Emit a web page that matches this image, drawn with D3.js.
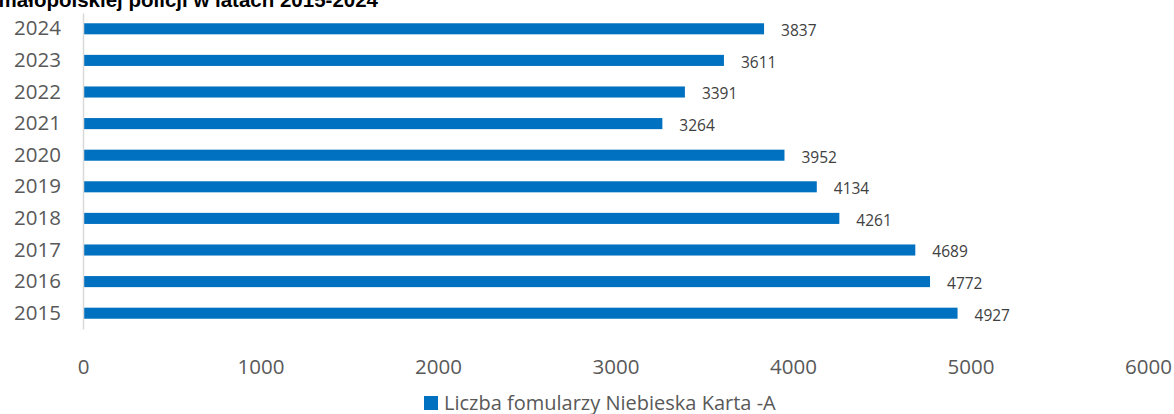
<!DOCTYPE html>
<html>
<head>
<meta charset="utf-8">
<script src="https://cdn.jsdelivr.net/npm/d3@7"></script>
<style>
  body { margin: 0; background: #fff; }
  svg { display: block; font-family: "Open Sans", sans-serif; }
</style>
</head>
<body>
<div id="viz"></div>
<script>
// Data
const years = ["2024", "2023", "2022", "2021", "2020", "2019", "2018", "2017", "2016", "2015"];
const counts = [3837, 3611, 3391, 3264, 3952, 4134, 4261, 4689, 4772, 4927];
const xTicks = [0, 1000, 2000, 3000, 4000, 5000, 6000];
const seriesName = "Liczba fomularzy Niebieska Karta -A";
const chartTitle = "małopolskiej policji w latach 2015-2024";

// Geometry
const width = 1174;
const height = 414;
const margin = {top: 13, left: 83, right: 26, bottom: 85};
const innerWidth = width - margin.left - margin.right;
const innerHeight = height - margin.top - margin.bottom;
const barColor = "#0070C0";

const data = years.map((y, i) => ({year: y, value: counts[i]}));

const svg = d3.select("#viz")
  .append("svg")
  .attr("width", width)
  .attr("height", height);

// Title (cut off at the top, as in the original)
svg.append("text")
  .attr("x", 378)
  .attr("y", 7)
  .attr("text-anchor", "end")
  .style("font-family", "'Liberation Sans', Arial, sans-serif")
  .style("font-weight", "bold")
  .style("font-size", "20.5px")
  .attr("fill", "#000")
  .text(chartTitle);

const g = svg.append("g")
  .attr("transform", "translate(" + margin.left + "," + margin.top + ")");

const xScale = d3.scaleLinear().domain([0, 6000]).range([0, innerWidth]);
const yScale = d3.scaleBand().domain(years).range([0, innerHeight]).paddingInner(0.65).paddingOuter(0.325);

// X axis (labels only)
const xAxisG = g.append("g")
  .attr("transform", "translate(0," + innerHeight + ")")
  .call(d3.axisBottom(xScale).tickValues(xTicks).tickSize(0).tickPadding(30).tickFormat(d3.format("d")));
xAxisG.select(".domain").remove();
xAxisG.selectAll("text")
  .style("font-size", "20.5px")
  .style("font-family", "'Open Sans', sans-serif")
  .attr("fill", "#595959");

// Bars
g.selectAll(".bar")
  .data(data)
  .enter().append("rect")
  .attr("class", "bar")
  .attr("x", 0)
  .attr("y", d => yScale(d.year))
  .attr("width", d => xScale(d.value))
  .attr("height", yScale.bandwidth())
  .attr("fill", barColor);

// Y axis
const yAxisG = g.append("g")
  .call(d3.axisLeft(yScale).tickSize(0).tickPadding(22));
yAxisG.select(".domain").attr("stroke", "#d9d9d9").attr("stroke-width", 1.5);
yAxisG.selectAll("text")
  .style("font-size", "20.5px")
  .style("font-family", "'Open Sans', sans-serif")
  .attr("fill", "#595959");

// Value labels
g.selectAll(".value-label")
  .data(data)
  .enter().append("text")
  .attr("class", "value-label")
  .attr("x", d => xScale(d.value) + 17)
  .attr("y", d => yScale(d.year) + yScale.bandwidth() / 2 + 2)
  .attr("dy", "0.35em")
  .style("font-size", "15.5px")
  .attr("fill", "#404040")
  .text(d => d.value);

// Legend
const legend = svg.append("g").attr("transform", "translate(424,396)");
legend.append("rect")
  .attr("width", 14)
  .attr("height", 14)
  .attr("fill", barColor);
legend.append("text")
  .attr("x", 20)
  .attr("y", 7)
  .attr("dy", "0.35em")
  .style("font-size", "20px")
  .attr("fill", "#595959")
  .text(seriesName);
</script>
</body>
</html>
